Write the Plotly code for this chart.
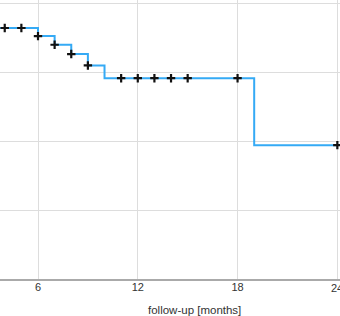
import plotly.graph_objects as go

# step curve (time in months, survival)
step_times = [3, 4, 5, 6, 7, 8, 9, 10, 11, 12, 13, 14, 15, 18, 19, 24]
step_surv = [0.7275, 0.7275, 0.7275, 0.704, 0.679, 0.652, 0.619, 0.582, 0.582,
             0.582, 0.582, 0.582, 0.582, 0.582, 0.388, 0.388]

# marked points
mark_times = [4, 5, 6, 7, 8, 9, 11, 12, 13, 14, 15, 18, 24]
mark_surv = [0.7275, 0.7275, 0.704, 0.679, 0.652, 0.619, 0.582, 0.582, 0.582,
             0.582, 0.582, 0.582, 0.388]

x_ticks = [0, 6, 12, 18, 24]
y_ticks = [0, 0.2, 0.4, 0.6, 0.8, 1.0]

fig = go.Figure()
fig.add_trace(go.Scatter(x=step_times, y=step_surv, mode="lines",
                         line=dict(shape="hv", color="#35aaf5", width=2),
                         hoverinfo="skip"))
fig.add_trace(go.Scatter(x=mark_times, y=mark_surv, mode="markers",
                         marker=dict(symbol="cross-thin", size=6,
                                     line=dict(width=2.2, color="#111111")),
                         cliponaxis=False))

label_font = dict(family="Liberation Sans, Arial, sans-serif", size=11, color="#333333")

fig.update_layout(
    width=340, height=316,
    margin=dict(l=0, r=0, t=0, b=37),
    paper_bgcolor="white", plot_bgcolor="white",
    showlegend=False,
    font=label_font,
    xaxis=dict(range=[3.715, 24.16], tickvals=x_ticks, ticktext=[str(v) for v in x_ticks],
               showgrid=True, gridcolor="#dddddd", gridwidth=1,
               zeroline=False, showline=True, linecolor="#aaaaaa", linewidth=1.5,
               ticks="", ticklabelstandoff=-3, automargin=False),
    yaxis=dict(range=[0, 0.8087], tickvals=y_ticks, showticklabels=False,
               showgrid=True, gridcolor="#dddddd", gridwidth=1,
               zeroline=False, showline=False, automargin=False),
    annotations=[dict(text="follow-up [months]", xref="paper", yref="paper",
                      x=194 / 340, y=-(310 - 279) / 279, yanchor="middle",
                      showarrow=False, font=dict(size=11.5, color="#333333"))],
)
# tick label for the last tick, which runs past the page edge
fig.add_annotation(text=str(x_ticks[-1]), x=x_ticks[-1], xref="x",
                   y=-(288 - 279) / 279, yref="paper", yanchor="middle",
                   showarrow=False, font=label_font)
fig.write_html("out.html")
